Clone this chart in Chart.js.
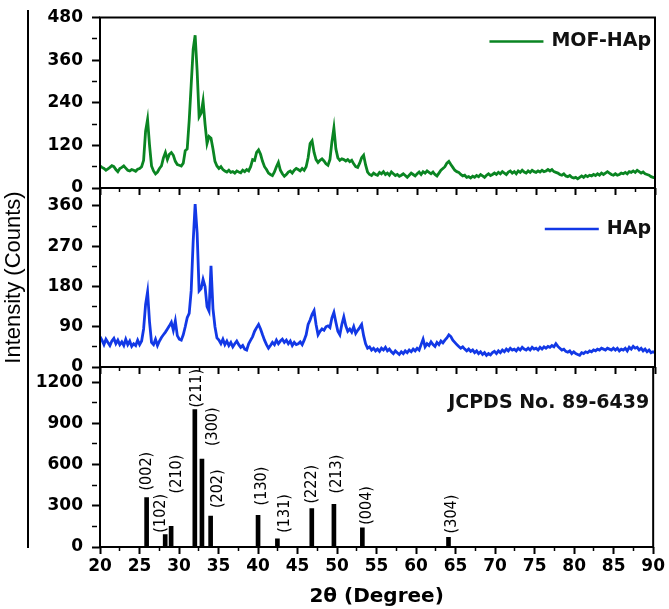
<!DOCTYPE html>
<html>
<head>
<meta charset="utf-8">
<script src="https://cdn.jsdelivr.net/npm/chart.js@4.4.1/dist/chart.umd.min.js"></script>
<style>
  body { margin: 0; background: #fff; }
  #wrap { position: relative; width: 669px; height: 609px; }
  #wrap canvas { position: absolute; left: 0; top: 0; }
</style>
</head>
<body>
<div id="wrap">
  <canvas id="mof" width="669" height="609"></canvas>
  <canvas id="hap" width="669" height="609"></canvas>
  <canvas id="ref" width="669" height="609"></canvas>
</div>
<script>
// 2-theta grid (degrees), shared by both measured patterns
const twoTheta = [
  20,20.25,20.5,20.75,21,21.25,21.5,21.75,22,22.25,22.5,22.75,23,23.25,23.5,23.75,24,24.25,24.5,24.75,
  25,25.25,25.5,25.75,26,26.25,26.5,26.75,27,27.25,27.5,27.75,28,28.25,28.5,28.75,29,29.25,29.5,29.75,
  30,30.25,30.5,30.75,31,31.25,31.5,31.75,32,32.25,32.5,32.75,33,33.25,33.5,33.75,34,34.25,34.5,34.75,
  35,35.25,35.5,35.75,36,36.25,36.5,36.75,37,37.25,37.5,37.75,38,38.25,38.5,38.75,39,39.25,39.5,39.75,
  40,40.25,40.5,40.75,41,41.25,41.5,41.75,42,42.25,42.5,42.75,43,43.25,43.5,43.75,44,44.25,44.5,44.75,
  45,45.25,45.5,45.75,46,46.25,46.5,46.75,47,47.25,47.5,47.75,48,48.25,48.5,48.75,49,49.25,49.5,49.75,
  50,50.25,50.5,50.75,51,51.25,51.5,51.75,52,52.25,52.5,52.75,53,53.25,53.5,53.75,54,54.25,54.5,54.75,
  55,55.25,55.5,55.75,56,56.25,56.5,56.75,57,57.25,57.5,57.75,58,58.25,58.5,58.75,59,59.25,59.5,59.75,
  60,60.25,60.5,60.75,61,61.25,61.5,61.75,62,62.25,62.5,62.75,63,63.25,63.5,63.75,64,64.25,64.5,64.75,
  65,65.25,65.5,65.75,66,66.25,66.5,66.75,67,67.25,67.5,67.75,68,68.25,68.5,68.75,69,69.25,69.5,69.75,
  70,70.25,70.5,70.75,71,71.25,71.5,71.75,72,72.25,72.5,72.75,73,73.25,73.5,73.75,74,74.25,74.5,74.75,
  75,75.25,75.5,75.75,76,76.25,76.5,76.75,77,77.25,77.5,77.75,78,78.25,78.5,78.75,79,79.25,79.5,79.75,
  80,80.25,80.5,80.75,81,81.25,81.5,81.75,82,82.25,82.5,82.75,83,83.25,83.5,83.75,84,84.25,84.5,84.75,
  85,85.25,85.5,85.75,86,86.25,86.5,86.75,87,87.25,87.5,87.75,88,88.25,88.5,88.75,89,89.25,89.5,89.75,
  90
];

const mofHAp = [
  62,58,55,50,54,58,63,60,52,46,55,58,62,56,50,48,52,50,47,53,
  55,60,78,160,193,120,62,48,40,45,55,62,85,100,80,95,100,92,75,66,
  64,62,70,105,110,190,290,390,430,330,200,210,245,180,125,145,140,110,75,62,
  55,60,52,48,45,50,44,46,42,48,45,43,50,46,52,48,60,80,78,100,
  107,95,75,60,52,42,38,35,45,60,72,50,40,33,38,45,48,42,50,55,
  52,48,55,50,60,85,125,133,100,80,72,78,82,76,68,64,80,130,169,110,
  85,78,82,80,76,80,74,78,68,60,58,70,85,92,65,45,38,35,42,38,
  36,44,40,46,38,42,36,45,40,35,38,33,36,40,35,30,36,42,38,34,
  40,45,38,46,42,48,44,40,45,38,34,42,50,55,60,70,75,66,58,50,
  46,44,38,34,36,30,32,28,33,30,35,32,38,34,30,36,40,35,38,42,
  38,44,40,46,42,38,45,48,42,46,40,48,44,50,45,42,48,44,50,46,
  44,48,45,50,46,48,52,48,52,46,44,42,38,36,40,34,32,35,30,28,
  30,26,30,34,30,35,32,36,34,38,35,40,36,42,38,42,46,42,38,36,
  40,36,38,42,40,44,40,46,44,48,44,50,46,42,45,40,38,36,32,30,
  28
];

const hap = [
  68,60,50,62,55,48,58,64,52,60,50,56,48,62,50,58,46,52,48,60,
  50,58,85,140,168,100,55,50,62,48,58,66,72,78,85,92,100,82,103,70,
  62,60,72,90,110,120,170,280,364,300,170,175,196,180,135,125,226,130,90,65,
  60,52,62,50,58,48,55,45,52,58,50,44,48,40,38,52,60,68,80,88,
  95,85,72,60,50,42,48,55,50,60,52,58,62,55,60,52,58,48,55,50,
  52,56,50,60,72,95,105,118,126,95,72,80,85,82,90,92,88,110,122,100,
  80,72,95,112,92,80,85,78,90,75,82,88,95,70,52,42,45,38,42,36,
  40,35,42,38,44,36,40,34,30,36,32,28,34,30,36,32,38,34,40,36,
  42,38,50,62,45,52,48,56,50,46,55,50,58,54,60,65,72,68,60,55,
  50,46,42,45,40,36,40,35,38,32,36,30,34,28,32,26,30,27,32,35,
  30,36,32,38,34,40,36,42,38,40,36,42,38,44,40,38,42,38,44,40,
  42,38,44,40,45,42,46,44,48,45,52,46,42,38,40,35,33,36,30,34,
  30,28,26,32,30,34,32,36,34,38,36,40,38,42,40,38,42,40,38,42,
  38,42,36,40,38,42,36,44,40,46,42,44,38,42,36,40,34,38,32,34,
  32
];

// JCPDS 89-6439 reference lines
const jcpdsPos = [25.9, 28.25, 29.0, 32.0, 32.9, 34.0, 40.0, 42.45, 46.8, 49.6, 53.2, 64.1];
const jcpdsInt = [360, 90, 150, 1000, 640, 225, 230, 60, 280, 310, 140, 70];
const jcpdsHkl = ['(002)','(102)','(210)','(211)','(300)','(202)','(130)','(131)','(222)','(213)','(004)','(304)'];

// labelled ticks
const xTickLabels = [20, 25, 30, 35, 40, 45, 50, 55, 60, 65, 70, 75, 80, 85, 90];
const mofYTicks = [0, 120, 240, 360, 480];
const hapYTicks = [0, 90, 180, 270, 360];
const refYTicks = [0, 300, 600, 900, 1200];

const tickFont = { family: '"DejaVu Sans"', weight: 'bold', size: 17, lineHeight: 1 };

function xScale(showLabels, height, title) {
  return {
    type: 'linear', min: 20, max: 90, offset: false,
    afterFit: s => { s.height = height; },
    border: { display: false },
    grid: {
      drawOnChartArea: false, offset: false, tickLength: 7, tickColor: '#000',
      tickWidth: c => (c.tick && xTickLabels.includes(c.tick.value)) ? 2 : 1.5,
      tickBorderDash: c => (c.tick && xTickLabels.includes(c.tick.value)) ? [] : [4, 40]
    },
    ticks: {
      stepSize: 2.5, autoSkip: false, maxRotation: 0, minRotation: 0, padding: 4,
      color: '#000', font: tickFont,
      callback: v => (showLabels && xTickLabels.includes(v)) ? String(v) : ''
    },
    title: title ? {
      display: true, text: title, color: '#000',
      font: { family: '"DejaVu Sans"', weight: 'bold', size: 20 },
      padding: { top: 0, bottom: 0 }
    } : { display: false }
  };
}

function yScale(max, step, labels, title) {
  return {
    min: 0, max: max,
    afterFit: s => { s.width = 100; },
    border: { display: false },
    grid: {
      drawOnChartArea: false, tickLength: 8, tickColor: '#000',
      tickWidth: c => (c.tick && labels.includes(c.tick.value)) ? 2 : 1.5,
      tickBorderDash: c => (c.tick && labels.includes(c.tick.value)) ? [] : [5, 40]
    },
    ticks: {
      stepSize: step, includeBounds: false, autoSkip: false, padding: 9,
      color: '#000', font: tickFont,
      callback: v => labels.includes(v) ? String(v) : ''
    },
    title: title ? {
      display: true, text: title, color: '#000',
      font: { family: '"Liberation Sans"', size: 22 },
      padding: { top: 1, bottom: 0 }
    } : { display: false }
  };
}

const frame = {
  id: 'frame',
  afterDraw(chart) {
    const { ctx, chartArea: a } = chart;
    ctx.save();
    ctx.lineWidth = 2;
    ctx.strokeStyle = '#000';
    ctx.strokeRect(a.left, a.top, a.right - a.left, a.bottom - a.top);
    ctx.restore();
  }
};

const panelKey = {
  id: 'panelKey',
  afterDraw(chart, args, opts) {
    const ds = chart.data.datasets[0];
    const { ctx, chartArea: a } = chart;
    ctx.save();
    ctx.font = 'bold 19px "DejaVu Sans"';
    ctx.textBaseline = 'middle';
    ctx.textAlign = 'right';
    ctx.fillStyle = '#111';
    const y = a.top + opts.dy;
    const right = a.right - 4;
    ctx.fillText(ds.label, right, y);
    if (opts.line) {
      const end = right - ctx.measureText(ds.label).width - 8;
      ctx.strokeStyle = ds.borderColor;
      ctx.lineWidth = 2.5;
      ctx.beginPath();
      ctx.moveTo(end - 54, y);
      ctx.lineTo(end, y);
      ctx.stroke();
    }
    ctx.restore();
  }
};

const bracket = {
  id: 'bracket',
  afterDraw(chart, args, opts) {
    if (!opts.x) return;
    const ctx = chart.ctx;
    ctx.save();
    ctx.strokeStyle = '#000';
    ctx.lineWidth = 2;
    ctx.beginPath();
    ctx.moveTo(opts.x, opts.top);
    ctx.lineTo(opts.x, opts.bottom);
    ctx.stroke();
    ctx.restore();
  }
};

const hklLabels = {
  id: 'hklLabels',
  afterDatasetsDraw(chart, args, opts) {
    if (!opts.nudge) return;
    const meta = chart.getDatasetMeta(0);
    const ctx = chart.ctx;
    ctx.save();
    ctx.font = '16px "Liberation Sans Narrow", "DejaVu Sans Condensed", sans-serif';
    ctx.fillStyle = '#000';
    ctx.textAlign = 'left';
    ctx.textBaseline = 'middle';
    meta.data.forEach((bar, i) => {
      const n = opts.nudge[i] || [4, 5];
      ctx.save();
      ctx.translate(bar.x + n[0], bar.y - n[1]);
      ctx.rotate(-Math.PI / 2);
      ctx.fillText(jcpdsHkl[i], 0, 0);
      ctx.restore();
    });
    ctx.restore();
  }
};

Chart.register(frame, panelKey, bracket, hklLabels);

const common = {
  responsive: false,
  maintainAspectRatio: false,
  devicePixelRatio: 1,
  animation: false,
  events: [],
  plugins: { legend: { display: false }, tooltip: { enabled: false } }
};

new Chart(document.getElementById('mof'), {
  type: 'line',
  data: {
    datasets: [{
      label: 'MOF-HAp',
      data: twoTheta.map((t, i) => ({ x: t, y: mofHAp[i] })),
      borderColor: '#0a8522', borderWidth: 2.8, pointRadius: 0, tension: 0
    }]
  },
  options: {
    ...common,
    layout: { padding: { top: 9, bottom: 413, left: 0, right: 14 } },
    scales: { x: xScale(false, 8), y: yScale(480, 60, mofYTicks) },
    plugins: { ...common.plugins, panelKey: { dy: 24, line: true } }
  }
});

new Chart(document.getElementById('hap'), {
  type: 'line',
  data: {
    datasets: [{
      label: 'HAp',
      data: twoTheta.map((t, i) => ({ x: t, y: hap[i] })),
      borderColor: '#1238e6', borderWidth: 2.8, pointRadius: 0, tension: 0
    }]
  },
  options: {
    ...common,
    layout: { padding: { top: 188, bottom: 234, left: 0, right: 14 } },
    scales: { x: xScale(false, 8), y: yScale(400, 45, hapYTicks, 'Intensity (Counts)') },
    plugins: { ...common.plugins, panelKey: { dy: 41, line: true }, bracket: { x: 28, top: 10, bottom: 548 } }
  }
});

new Chart(document.getElementById('ref'), {
  type: 'bar',
  data: {
    datasets: [{
      label: 'JCPDS No. 89-6439',
      data: jcpdsPos.map((p, i) => ({ x: p, y: jcpdsInt[i] })),
      backgroundColor: '#000', barThickness: 4
    }]
  },
  options: {
    ...common,
    layout: { padding: { top: 367, bottom: 0, left: 0, right: 14 } },
    scales: { x: xScale(true, 62, '2θ (Degree)'), y: yScale(1310, 150, refYTicks) },
    plugins: {
      ...common.plugins,
      panelKey: { dy: 36, line: false },
      hklLabels: { nudge: [[0, 7], [-4, 2], [6, 33], [2, 2], [11, 13], [7, 8], [4, 10], [7, 6], [0, 5], [3, 11], [4, 3], [3, 4]] }
    }
  }
});
</script>
</body>
</html>
